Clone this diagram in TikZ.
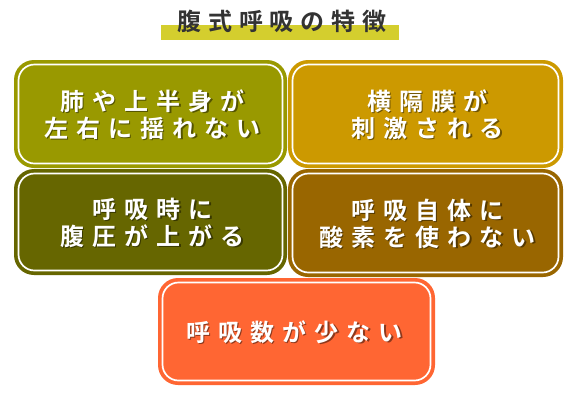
\documentclass[tikz,border=0pt]{standalone}
\usepackage{fontspec}
\setmainfont{Noto Sans CJK JP}
\newfontfamily\jpb{Noto Sans CJK JP Bold}[LetterSpace=34]
\newfontfamily\jpt{Noto Sans CJK JP Bold}[LetterSpace=28]
\definecolor{cone}{HTML}{999900}
\definecolor{ctwo}{HTML}{CC9900}
\definecolor{cthree}{HTML}{666600}
\definecolor{cfour}{HTML}{996600}
\definecolor{cfive}{HTML}{FF6633}
\definecolor{band}{HTML}{D4CE2E}
\definecolor{titlec}{HTML}{333333}
\tikzset{
  box/.style={rectangle, rounded corners=20pt, inner sep=0pt, outer sep=0pt, draw=none},
  txt/.style={text=white, align=center, inner sep=0pt, font=\jpb\fontsize{24}{27}\selectfont},
  shd/.style={text=black, text opacity=0.45, align=center, inner sep=0pt, font=\jpb\fontsize{24}{27}\selectfont},
}
\newcommand{\innerline}[1]{\draw[white, line width=1.7pt, rounded corners=16pt] ([shift={(4.5,4.5)}]#1.north west) rectangle ([shift={(-4.5,-4.5)}]#1.south east);}
\begin{document}
\begin{tikzpicture}[x=1pt,y=-1pt]
\useasboundingbox[fill=white] (0,0) rectangle (572,408);
% title
\fill[band] (161,25) rectangle (399,40);
\node[text=titlec, inner sep=0pt, font=\jpt\fontsize{24}{26}\selectfont] (title) at (282,21) {腹式呼吸の特徴};
% boxes
\node[box, fill=cone, minimum width=273pt, minimum height=108pt] (b1) at (150.5,114) {};
\node[box, fill=ctwo, minimum width=275pt, minimum height=108pt] (b2) at (425.5,114) {};
\node[box, fill=cthree, minimum width=273pt, minimum height=106pt] (b3) at (150.5,222) {};
\node[box, fill=cfour, minimum width=275pt, minimum height=108pt] (b4) at (425.5,223) {};
\node[box, fill=cfive, minimum width=277pt, minimum height=107pt] (b5) at (296.5,331.5) {};
\innerline{b1}\innerline{b2}\innerline{b3}\innerline{b4}\innerline{b5}
% texts
\node[shd] (s1) at ([shift={(3.5,2)}]b1.center) {肺や上半身が\\左右に揺れない};
\node[txt] (t1) at ([shift={(2,0.5)}]b1.center) {肺や上半身が\\左右に揺れない};
\node[shd] (s2) at ([shift={(3.5,2)}]b2.center) {横隔膜が\\刺激される};
\node[txt] (t2) at ([shift={(2,0.5)}]b2.center) {横隔膜が\\刺激される};
\node[shd] (s3) at ([shift={(3.5,2)}]b3.center) {呼吸時に\\腹圧が上がる};
\node[txt] (t3) at ([shift={(2,0.5)}]b3.center) {呼吸時に\\腹圧が上がる};
\node[shd] (s4) at ([shift={(3.5,2)}]b4.center) {呼吸自体に\\酸素を使わない};
\node[txt] (t4) at ([shift={(2,0.5)}]b4.center) {呼吸自体に\\酸素を使わない};
\node[shd] (s5) at ([shift={(-0.5,2)}]b5.center) {呼吸数が少ない};
\node[txt] (t5) at ([shift={(-2,0.5)}]b5.center) {呼吸数が少ない};
\end{tikzpicture}
\end{document}
